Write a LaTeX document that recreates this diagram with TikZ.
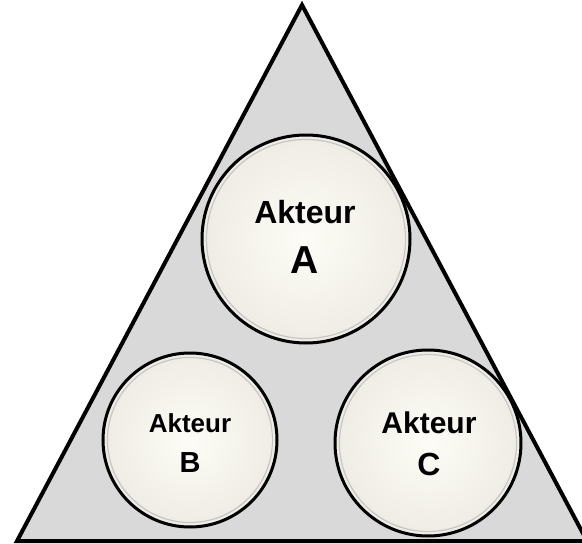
\documentclass[tikz,border=0pt]{standalone}
\usepackage{fontspec}
\setmainfont{Liberation Sans}
\begin{document}
\begin{tikzpicture}[x=1pt,y=-1pt,
  tri/.style={draw=black, line width=4pt, fill=triGray, line join=miter},
  actor/.style={circle, inner sep=0pt, draw=black, line width=3pt,
    inner color=cream, outer color=creamEdge},
  ring/.style={draw=gray!45, line width=1.2pt},
  lbl/.style={anchor=base, font=\bfseries\fontsize{#1}{#1}\selectfont}]
\definecolor{triGray}{HTML}{D9D9D9}
\definecolor{cream}{HTML}{FDFCF6}
\definecolor{creamEdge}{HTML}{EEECE4}
\useasboundingbox (0,0) rectangle (582,544);
\clip (0,0) rectangle (582,544);
\coordinate (apex) at (302,5);
\coordinate (bl) at (17,541);
\coordinate (br) at (587,541);
\draw[tri] (apex) -- (bl) -- (br) -- cycle;
% actors
\node[actor, minimum size=208pt] (A) at (306,239) {};
\draw[ring] (A.center) circle (99.5pt);
\node[actor, minimum size=174pt] (B) at (190,440) {};
\draw[ring] (B.center) circle (82.5pt);
\node[actor, minimum size=186pt] (C) at (428,443) {};
\draw[ring] (C.center) circle (88.5pt);
% labels
\node[lbl=32] (A1) at (305,223) {Akteur};
\node[lbl=39] (A2) at (305,273) {A};
\node[lbl=26] (B1) at (190,432) {Akteur};
\node[lbl=29] (B2) at (190,472) {B};
\node[lbl=30] (C1) at (429,433) {Akteur};
\node[lbl=32] (C2) at (429,475) {C};
\end{tikzpicture}
\end{document}
